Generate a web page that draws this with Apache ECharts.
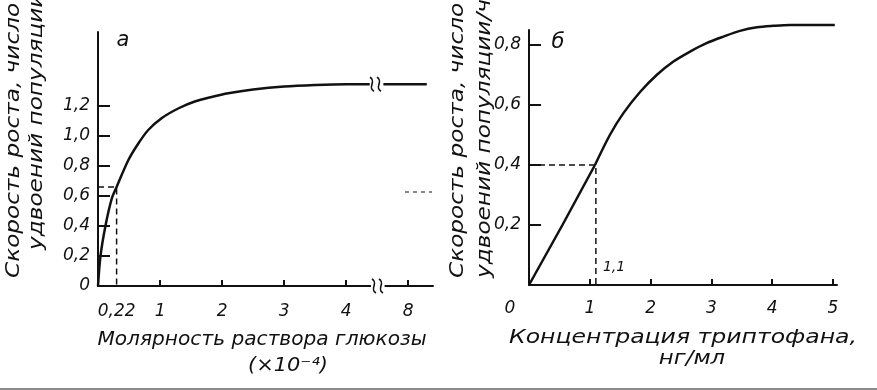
<!DOCTYPE html>
<html><head><meta charset="utf-8">
<script src="https://cdn.jsdelivr.net/npm/echarts@6/dist/echarts.min.js"></script>
<style>html,body{margin:0;padding:0;background:#fff}#c{width:877px;height:390px}</style>
</head><body><div id="c"></div>
<script>
// ---------- Panel а : glucose ----------
const glucoseX    = [0, 0.04, 0.12, 0.22, 0.30, 0.49, 0.65, 0.81, 1.03, 1.30, 1.56, 1.83, 2.10, 2.50, 3.00, 3.50, 4.00, 4.38];
const glucoseRate = [0, 0.20, 0.40, 0.58, 0.66, 0.84, 0.95, 1.04, 1.12, 1.185, 1.23, 1.26, 1.285, 1.31, 1.33, 1.34, 1.345, 1.345];
const glucoseTailX    = [4.60, 5.30];
const glucoseTailRate = [1.345, 1.345];
const glucoseYTickVals  = [0.2, 0.4, 0.6, 0.8, 1.0, 1.2];
const glucoseYLabelVals = [0, 0.2, 0.4, 0.6, 0.8, 1.0, 1.2];
const glucoseYLabels    = ['0', '0,2', '0,4', '0,6', '0,8', '1,0', '1,2'];
const glucoseXTickVals  = [1, 2, 3, 4, 5];
const glucoseXLabelVals = [0.30, 1, 2, 3, 4, 5];
const glucoseXLabels    = ['0,22', '1', '2', '3', '4', '8'];
const glucoseHalfX = 0.30, glucoseHalfRate = 0.66;
const glucoseBreakX = [4.40, 4.62];

// ---------- Panel б : tryptophan ----------
const trpLinX    = [0, 0.55, 1.085];
const trpLinRate = [0, 0.20, 0.40];
const trpX    = [1.085, 1.33, 1.55, 1.83, 2.10, 2.37, 2.65, 2.92, 3.20, 3.47, 3.75, 4.02, 4.29, 4.60, 5.03];
const trpRate = [0.40, 0.50, 0.572, 0.644, 0.70, 0.744, 0.778, 0.806, 0.828, 0.847, 0.859, 0.864, 0.867, 0.867, 0.867];
const trpYTickVals  = [0.2, 0.4, 0.6, 0.8];
const trpYLabels    = ['0,2', '0,4', '0,6', '0,8'];
const trpXTickVals  = [1, 2, 3, 4, 5];
const trpXLabelVals = [0, 1, 2, 3, 4, 5];
const trpXLabels    = ['0', '1', '2', '3', '4', '5'];
const trpMarkX = 1.1, trpMarkRate = 0.4;

const INK = '#111';
const FONT = 'DejaVu Sans';
const zip = (xs, ys) => xs.map((x, i) => [x, ys[i]]);

const chart = echarts.init(document.getElementById('c'), null, {renderer: 'canvas'});

function xAxisCfg(gi, max, tickVals, labelVals, labels, margin) {
  return {
    type: 'value', gridIndex: gi, min: 0, max: max,
    axisLine: {show: true, lineStyle: {color: INK, width: 2}},
    axisTick: {show: true, inside: true, length: 6, customValues: tickVals, lineStyle: {color: INK, width: 2}},
    axisLabel: {
      show: true, customValues: labelVals, margin: margin,
      color: INK, fontFamily: FONT, fontStyle: 'italic', fontSize: 17,
      formatter: v => {
        const i = labelVals.findIndex(t => Math.abs(t - v) < 1e-6);
        const s = i >= 0 ? labels[i] : '';
        return (gi === 1 && v === 0) ? '{z|' + s + '}' : s;
      },
      rich: {z: {fontFamily: FONT, fontStyle: 'italic', fontSize: 17, color: INK, padding: [0, 38, 0, 0]}}
    },
    splitLine: {show: false}
  };
}
function yAxisCfg(gi, max, tickVals, labelVals, labels) {
  return {
    type: 'value', gridIndex: gi, min: 0, max: max,
    axisLine: {show: true, lineStyle: {color: INK, width: 2}},
    axisTick: {show: true, inside: true, length: 12, customValues: tickVals, lineStyle: {color: INK, width: 2}},
    axisLabel: {
      show: true, customValues: labelVals, margin: 8,
      color: INK, fontFamily: FONT, fontStyle: 'italic', fontSize: 17,
      formatter: v => {
        const i = labelVals.findIndex(t => Math.abs(t - v) < 1e-6);
        return i >= 0 ? labels[i] : '';
      }
    },
    splitLine: {show: false}
  };
}

const curveStyle = {color: INK, width: 2.5};
const option = {
  animation: false,
  backgroundColor: '#fff',
  grid: [
    {left: 98, top: 32, width: 335, height: 254},
    {left: 529, top: 30, width: 308, height: 255}
  ],
  xAxis: [
    xAxisCfg(0, 5.4, glucoseXTickVals, glucoseXLabelVals, glucoseXLabels, 17),
    xAxisCfg(1, 5.066, trpXTickVals, trpXLabelVals, trpXLabels, 15)
  ],
  yAxis: [
    yAxisCfg(0, 1.6933, glucoseYTickVals, glucoseYLabelVals, glucoseYLabels),
    yAxisCfg(1, 0.85, trpYTickVals, trpYTickVals, trpYLabels)
  ],
  series: [
    {type: 'line', xAxisIndex: 0, yAxisIndex: 0, data: zip(glucoseX, glucoseRate), smooth: 0.3,
     showSymbol: false, clip: false, lineStyle: curveStyle},
    {type: 'line', xAxisIndex: 0, yAxisIndex: 0, data: zip(glucoseTailX, glucoseTailRate),
     showSymbol: false, clip: false, lineStyle: curveStyle},
    {type: 'line', xAxisIndex: 0, yAxisIndex: 0,
     data: [[0, glucoseHalfRate], [glucoseHalfX, glucoseHalfRate], [glucoseHalfX, 0]],
     showSymbol: false, lineStyle: {color: INK, width: 1.5, type: [6, 4]}},
    {type: 'line', xAxisIndex: 1, yAxisIndex: 1, data: zip(trpLinX, trpLinRate),
     showSymbol: false, clip: false, lineStyle: curveStyle},
    {type: 'line', xAxisIndex: 1, yAxisIndex: 1, data: zip(trpX, trpRate), smooth: 0.3,
     showSymbol: false, clip: false, lineStyle: curveStyle},
    {type: 'line', xAxisIndex: 1, yAxisIndex: 1,
     data: [[0, trpMarkRate], [trpMarkX, trpMarkRate], [trpMarkX, 0]],
     showSymbol: false, lineStyle: {color: INK, width: 1.5, type: [6, 4]}}
  ]
};
chart.setOption(option);

// ---------- decorations (text, axis break) ----------
const P0 = v => chart.convertToPixel({xAxisIndex: 0, yAxisIndex: 0}, v);
const P1 = v => chart.convertToPixel({xAxisIndex: 1, yAxisIndex: 1}, v);
const tStyle = (size) => ({fill: INK, fontFamily: FONT, fontStyle: 'italic', fontSize: size});

function squiggle(x, y) {
  return {type: 'bezierCurve', shape: {x1: x - 2, y1: y - 7, cpx1: x + 5, cpy1: y - 3, cpx2: x - 5, cpy2: y + 3, x2: x + 2, y2: y + 7},
          style: {stroke: INK, lineWidth: 1.6, fill: null}, z: 20};
}
const brA = P0([glucoseBreakX[0], 0]), brB = P0([glucoseBreakX[1], 0]);
const crA = P0([glucoseBreakX[0], glucoseTailRate[0]]);

const g = [];
g.push({type: 'rect', shape: {x: brA[0], y: brA[1] - 3, width: brB[0] - brA[0], height: 6}, style: {fill: '#fff'}, z: 15});
[0, 7].forEach(dx => {
  g.push(squiggle(brA[0] + 3 + dx, brA[1]));
  g.push(squiggle(crA[0] + 1 + dx, crA[1]));
});
g.push({type: 'text', x: 123, y: 41, style: Object.assign({text: 'а', align: 'center', verticalAlign: 'middle'}, tStyle(21)), z: 20});
g.push({type: 'text', x: 558, y: 43, style: Object.assign({text: 'б', align: 'center', verticalAlign: 'middle'}, tStyle(21)), z: 20});
// y axis titles (rotated, stretched along the text direction)
const yT1 = 'Скорость роста, число', yT2 = 'удвоений популяции/ч';
[[14, 278, yT1], [37, 250, yT2], [458, 278, yT1], [485, 278, yT2]].forEach(([x, y, t]) => {
  g.push({type: 'text', x: x, y: y, rotation: Math.PI / 2, scaleX: 1.22, scaleY: 1,
          style: Object.assign({text: t, align: 'left', verticalAlign: 'middle'}, tStyle(19)), z: 20});
});
// x axis titles
const xt = (x, y, text, sx) => ({type: 'text', x: x, y: y, scaleX: sx, scaleY: 1,
  style: Object.assign({text: text, align: 'center', verticalAlign: 'middle'}, tStyle(19)), z: 20});
g.push(xt(262, 340, 'Молярность раствора глюкозы', 1.06));
g.push(xt(288, 366, '(×10⁻⁴)', 1.1));
g.push(xt(683, 338, 'Концентрация триптофана,', 1.24));
g.push(xt(692, 359, 'нг/мл', 1.2));
const m = P1([trpMarkX, 0]);
g.push({type: 'text', x: m[0] + 7, y: m[1] - 18, style: Object.assign({text: '1,1', align: 'left', verticalAlign: 'middle'}, tStyle(14)), z: 20});
g.push({type: 'line', shape: {x1: 405, y1: 192, x2: 432, y2: 192}, style: {stroke: '#111', lineWidth: 1.2, lineDash: [4, 4]}, z: 20});
g.push({type: 'rect', shape: {x: 0, y: 388, width: 877, height: 2}, style: {fill: '#8a8a8a'}, z: 20});

chart.setOption({graphic: g});
</script>
</body></html>
